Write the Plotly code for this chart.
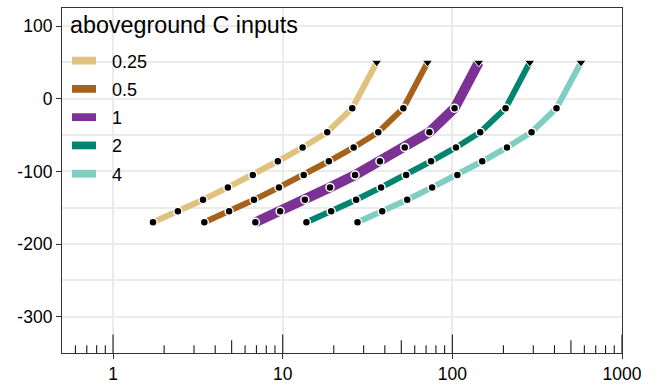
import math
import plotly.graph_objects as go

# Aboveground C input levels and their colours
inputs = ["0.25", "0.5", "1", "2", "4"]
colors = ["#DFC27D", "#A6611A", "#7B3294", "#018571", "#80CDC1"]
line_widths = [6, 6, 10, 6, 6]

# x positions of each curve (log scale)
x_025 = [1.72, 2.41, 3.39, 4.75, 6.67, 9.36, 13.1, 18.3, 25.7, 35.8]
x_05 = [3.45, 4.83, 6.77, 9.5, 13.3, 18.7, 26.2, 36.6, 51.4, 71.4]
x_1 = [6.9, 9.66, 13.5, 19.0, 26.7, 37.4, 52.4, 73.2, 103, 143]
x_2 = [13.8, 19.3, 27.1, 38.0, 53.4, 74.9, 105, 146, 206, 286]
x_4 = [27.6, 38.6, 54.2, 76.0, 107, 150, 210, 293, 411, 573]
x_series = [x_025, x_05, x_1, x_2, x_4]

# y values shared by every curve; the last one is the open-ended endpoint
y_vals = [-170, -155, -139, -122, -105, -86, -67, -46, -13, 50]

y_ticks = [-300, -200, -100, 0, 100]
y_ticklabels = ["-300", "-200", "-100", "0", "100"]
y_minor = [-250, -150, -50, 50]
x_ticks = [1, 10, 100, 1000]
x_ticklabels = ["1", "10", "100", "1000"]

X_RANGE = [math.log10(0.5), 3]
Y_RANGE = [-350, 125]

# figure geometry (pixels)
W, H = 660, 391
ML, MR, MT, MB = 62, 38, 7, 30
PW, PH = W - ML - MR, H - MT - MB


def px_x(px):
    return (px - ML) / PW


def px_y(py):
    return (H - MB - py) / PH


fig = go.Figure()

for xs, c, lw in zip(x_series, colors, line_widths):
    fig.add_trace(go.Scatter(x=xs, y=y_vals, mode="lines",
                             line=dict(color=c, width=lw),
                             hoverinfo="skip", showlegend=False))

for xs in x_series:
    fig.add_trace(go.Scatter(x=xs[:-1], y=y_vals[:-1], mode="markers",
                             marker=dict(symbol="circle", size=8, color="black",
                                         line=dict(color="white", width=1.5)),
                             showlegend=False))
    fig.add_trace(go.Scatter(x=xs[-1:], y=y_vals[-1:], mode="markers",
                             marker=dict(symbol="triangle-down", size=9, color="black",
                                         line=dict(color="white", width=1)),
                             showlegend=False))

shapes = []
annotations = []

# log ticks along the bottom of the panel
for decade in [0.1, 1, 10, 100]:
    for m in range(1, 10):
        v = m * decade
        if v < 0.55 or v > 1000:
            continue
        if m == 1:
            L = 19
        elif m == 5:
            L = 13
        else:
            L = 8
        shapes.append(dict(type="line", xref="x", yref="paper",
                           x0=v, x1=v, y0=0, y1=L / PH,
                           line=dict(color="#1a1a1a", width=1.1), layer="above"))
shapes.append(dict(type="line", xref="x", yref="paper", x0=1000, x1=1000,
                   y0=0, y1=19 / PH, line=dict(color="#1a1a1a", width=1.1), layer="above"))

# legend box
shapes.append(dict(type="rect", xref="paper", yref="paper",
                   x0=px_x(68), x1=px_x(302), y0=px_y(184), y1=px_y(MT + 0.5),
                   fillcolor="white", line=dict(width=0), layer="between"))
annotations.append(dict(text="aboveground C inputs", xref="paper", yref="paper",
                        x=px_x(67.5), y=px_y(24.5), xanchor="left", yanchor="middle",
                        showarrow=False, font=dict(size=23.3, color="black")))
key_y = [61, 90, 119, 148, 177]
for lab, c, ky in zip(inputs, colors, key_y):
    shapes.append(dict(type="rect", xref="paper", yref="paper",
                       x0=px_x(72), x1=px_x(96), y0=px_y(ky + 4), y1=px_y(ky - 4),
                       fillcolor=c, line=dict(width=0), layer="above"))
    annotations.append(dict(text=lab, xref="paper", yref="paper",
                            x=px_x(109.5), y=px_y(ky + 1), xanchor="left", yanchor="middle",
                            showarrow=False, font=dict(size=18, color="black")))

fig.update_layout(
    width=W, height=H,
    margin=dict(l=ML, r=MR, t=MT, b=MB, pad=0),
    paper_bgcolor="white", plot_bgcolor="white",
    font=dict(family="Liberation Sans, Arial, sans-serif", size=17.5, color="black"),
    shapes=shapes, annotations=annotations,
    xaxis=dict(type="log", range=X_RANGE, tickvals=x_ticks, ticktext=x_ticklabels,
               showgrid=True, gridcolor="#EBEBEB", gridwidth=2,
               showline=True, mirror=True, linecolor="#333333", linewidth=1.2,
               ticks="outside", ticklen=5, tickwidth=1.1, tickcolor="#333333",
               zeroline=False, tickfont=dict(size=17.5, color="black")),
    yaxis=dict(range=Y_RANGE, tickvals=y_ticks, ticktext=y_ticklabels,
               showgrid=True, gridcolor="#EBEBEB", gridwidth=2,
               minor=dict(tickvals=y_minor, showgrid=True, gridcolor="#EBEBEB",
                          gridwidth=2, ticks=""),
               showline=True, mirror=True, linecolor="#333333", linewidth=1.2,
               ticks="outside", ticklen=5, tickwidth=1.1, tickcolor="#333333",
               zeroline=False, tickfont=dict(size=17.5, color="black")),
)

fig.write_html("out.html")
